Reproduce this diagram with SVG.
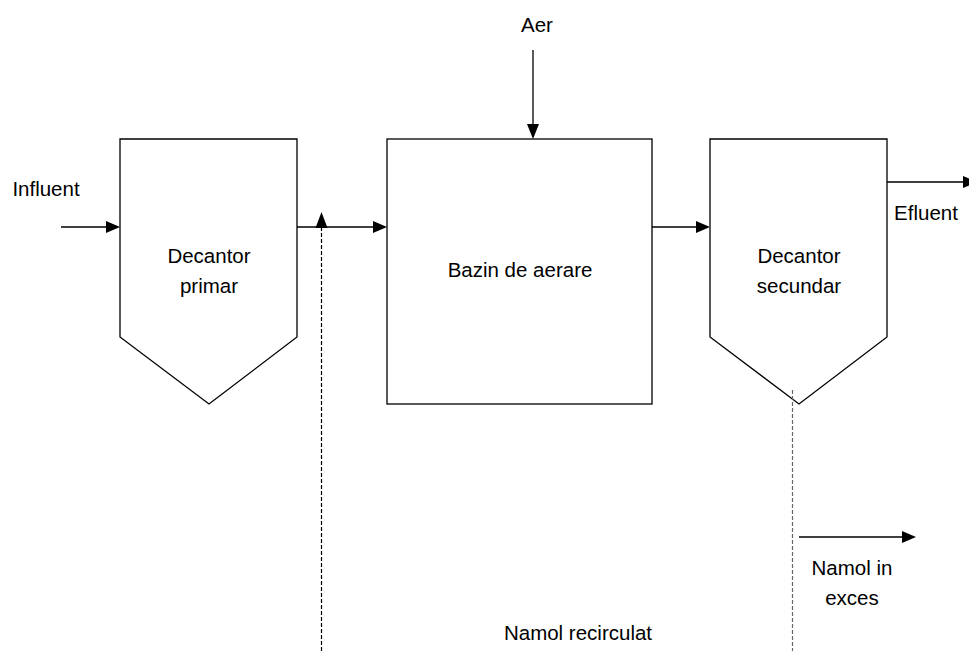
<svg xmlns="http://www.w3.org/2000/svg" width="969" height="651" viewBox="0 0 969 651">
<defs>
<style>
.box{fill:#fff;stroke:#000;stroke-width:1.3}
.ln{fill:none;stroke:#000;stroke-width:1.3}
.dash{fill:none;stroke:#000;stroke-width:1.2;stroke-dasharray:4 2}
.dash2{fill:none;stroke:#666;stroke-width:1.2;stroke-dasharray:4 2}
.ah{fill:#000}
text{font-family:"Liberation Sans",Arial,sans-serif;font-size:20.5px;fill:#000;text-anchor:middle}
</style>
</defs>
<rect width="969" height="651" fill="#fff"/>
<g id="decantor-primar">
<polygon class="box" points="120,139 297,139 297,337 209,404 120,337"/>
<text x="209" y="263">Decantor</text>
<text x="209" y="293">primar</text>
</g>
<g id="bazin-de-aerare">
<rect class="box" x="387" y="139" width="265" height="265"/>
<text x="520" y="277">Bazin de aerare</text>
</g>
<g id="decantor-secundar">
<polygon class="box" points="710,139 887,139 887,337 799,404 710,337"/>
<text x="799" y="263">Decantor</text>
<text x="799" y="293">secundar</text>
</g>
<g id="labels">
<text x="46" y="196">Influent</text>
<text x="537" y="32">Aer</text>
<text x="926" y="220">Efluent</text>
<text x="578" y="640">Namol recirculat</text>
<text x="852" y="575">Namol in</text>
<text x="852" y="605">exces</text>
</g>
<g id="connectors">
<line class="ln" x1="61" y1="227" x2="108" y2="227"/>
<polygon class="ah" points="120,227 106,221 106,233"/>
<line class="ln" x1="297" y1="227" x2="375" y2="227"/>
<polygon class="ah" points="387,227 373,221 373,233"/>
<line class="dash" x1="321.5" y1="651" x2="321.5" y2="226"/>
<polygon class="ah" points="321.5,212 315.5,228 327.5,228"/>
<line class="ln" x1="533" y1="50" x2="533" y2="126"/>
<polygon class="ah" points="533,139 527,124 539,124"/>
<line class="ln" x1="652" y1="227" x2="698" y2="227"/>
<polygon class="ah" points="710,227 696,221 696,233"/>
<line class="ln" x1="887" y1="182" x2="966" y2="182"/>
<polygon class="ah" points="977,182 963,176 963,188"/>
<line class="dash2" x1="792.5" y1="390" x2="792.5" y2="651"/>
<line class="ln" x1="799" y1="537" x2="904" y2="537"/>
<polygon class="ah" points="916,537 902,531 902,543"/>
</g>
</svg>
